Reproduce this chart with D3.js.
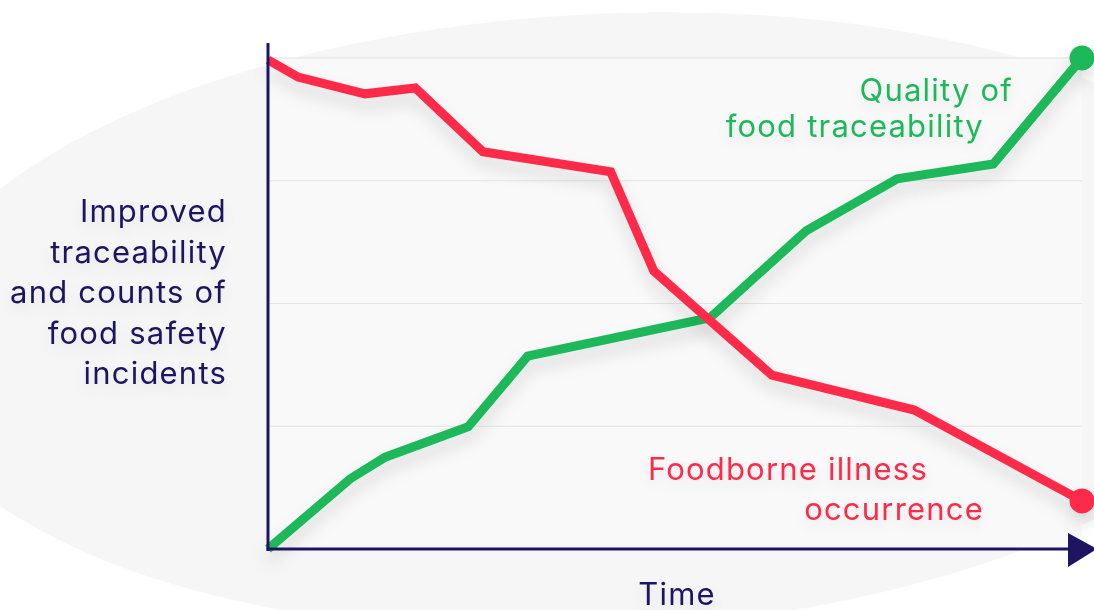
<!DOCTYPE html>
<html><head><meta charset="utf-8">
<script src="https://cdn.jsdelivr.net/npm/d3@7"></script>
<style>
html,body{margin:0;padding:0;background:#fff;overflow:hidden}
text{font-family:Inter,"Noto Sans",sans-serif}
</style></head>
<body><svg id="c" width="1094" height="610"></svg>
<script>
// data (time 0-100, level 0-100)
const greenX = [0, 10.1, 14.4, 24.6, 31.9, 54.3, 66.1, 77.3, 89.1, 100];
const greenY = [0, 14.3, 18.7, 24.9, 39.3, 47.1, 64.8, 75.4, 78.4, 100];
const redX = [0, 3.7, 11.9, 18.1, 26.4, 42.1, 47.4, 61.9, 79.4, 100];
const redY = [99.6, 96.1, 92.7, 93.9, 80.9, 76.8, 56.6, 35.4, 28.3, 9.8];
const gridValues = [25, 50, 75, 100];
const yLabelLines = ["Improved", "traceability", "and counts of", "food safety", "incidents"];
const greenLabel = ["Quality of", "food traceability"];
const redLabel = ["Foodborne illness", "occurrence"];
const xLabel = "Time";

const NAVY = "#1e1562", GREEN = "#1cb85a", RED = "#fe2b48";
const svg = d3.select("#c");
const defs = svg.append("defs");
const f = defs.append("filter").attr("id","sh").attr("x","-20%").attr("y","-20%").attr("width","140%").attr("height","160%");
f.append("feDropShadow").attr("dx",0).attr("dy",10).attr("stdDeviation",8).attr("flood-color","#000").attr("flood-opacity",0.13);
const ft = defs.append("filter").attr("id","tsh").attr("x","-20%").attr("y","-40%").attr("width","140%").attr("height","200%");
ft.append("feDropShadow").attr("dx",0).attr("dy",6).attr("stdDeviation",6).attr("flood-color","#000").attr("flood-opacity",0.08);

// background ellipse
svg.append("ellipse").attr("cx",600).attr("cy",322).attr("rx",700).attr("ry",308)
  .attr("transform","rotate(-3 600 322)").attr("fill","#f6f6f6");

const x = d3.scaleLinear().domain([0,100]).range([268,1082]);
const y = d3.scaleLinear().domain([0,100]).range([549,58]);

// plot area
svg.append("rect").attr("x",x(0)).attr("y",y(100)).attr("width",x(100)-x(0)).attr("height",y(0)-y(100)).attr("fill","#f9f9f9");

// grid
svg.append("g").selectAll("line").data(gridValues).join("line")
  .attr("x1",x(0)).attr("x2",x(100)).attr("y1",d=>y(d)).attr("y2",d=>y(d))
  .attr("stroke","#e4e4e4").attr("stroke-width",1.2);

const line = d3.line().x(d=>x(d[0])).y(d=>y(d[1]));
const gData = greenX.map((v,i)=>[v,greenY[i]]);
const rData = redX.map((v,i)=>[v,redY[i]]);

function series(data,color){
  const g = svg.append("g").attr("filter","url(#sh)");
  g.append("path").datum(data).attr("d",line).attr("fill","none").attr("stroke",color)
    .attr("stroke-width",9).attr("stroke-linejoin","miter");
  const last = data[data.length-1];
  g.append("circle").attr("cx",x(last[0])).attr("cy",y(last[1])).attr("r",12.5).attr("fill",color);
}
series(gData,GREEN);
series(rData,RED);

// axes
svg.append("line").attr("x1",x(0)).attr("x2",x(0)).attr("y1",43).attr("y2",y(0)+2).attr("stroke",NAVY).attr("stroke-width",3);
svg.append("line").attr("x1",x(0)-1.5).attr("x2",1075).attr("y1",y(0)).attr("y2",y(0)).attr("stroke",NAVY).attr("stroke-width",3);
svg.append("path").attr("d",`M1068,${y(0)-16} L1097,${y(0)} L1068,${y(0)+18} Z`).attr("fill",NAVY);

// texts
const FS = 31, LS = 1.2;
const tg = svg.append("g").attr("filter","url(#tsh)");
tg.append("text").attr("text-anchor","end").attr("fill",NAVY).attr("font-size",FS).attr("letter-spacing",LS)
  .selectAll("tspan").data(yLabelLines).join("tspan").attr("x",227).attr("y",(d,i)=>222+i*40.5).text(d=>d);
tg.append("text").attr("text-anchor","end").attr("fill",GREEN).attr("font-size",FS).attr("letter-spacing",LS)
  .selectAll("tspan").data(greenLabel).join("tspan").attr("x",(d,i)=>[1013,984][i]).attr("y",(d,i)=>101+i*36).text(d=>d);
tg.append("text").attr("text-anchor","end").attr("fill",RED).attr("font-size",FS).attr("letter-spacing",LS)
  .selectAll("tspan").data(redLabel).join("tspan").attr("x",(d,i)=>[928,984][i]).attr("y",(d,i)=>480+i*40).text(d=>d);
tg.append("text").attr("text-anchor","middle").attr("fill",NAVY).attr("font-size",FS).attr("letter-spacing",LS).attr("x",677).attr("y",605).text(xLabel);
</script></body></html>
